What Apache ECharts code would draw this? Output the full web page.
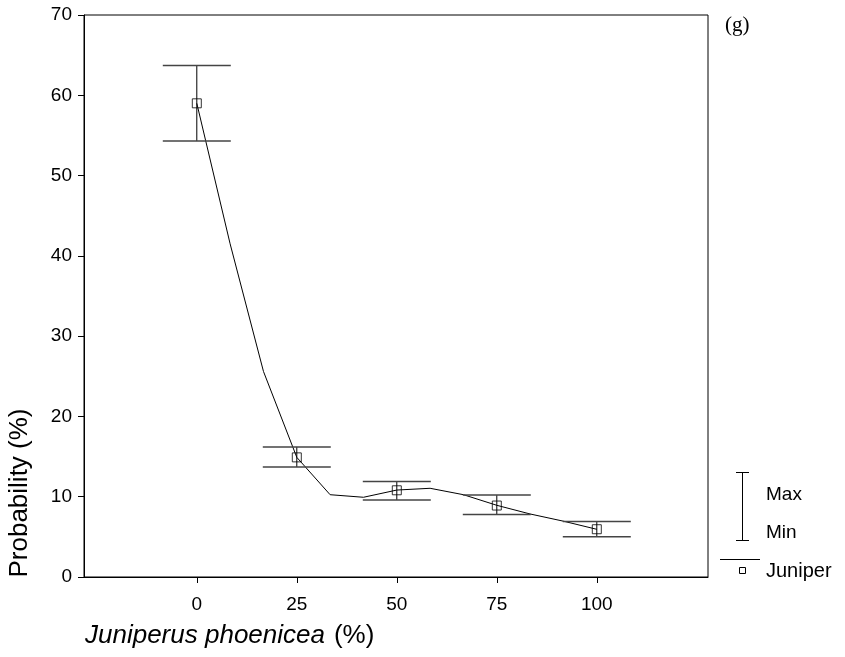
<!DOCTYPE html>
<html><head><meta charset="utf-8">
<script src="https://cdn.jsdelivr.net/npm/echarts@6/dist/echarts.min.js"></script>
<style>html,body{margin:0;padding:0;background:#fff}#c{width:845px;height:657px}</style>
</head><body><div id="c"></div>
<script>
// ---- data ----
const xTicks = [0, 25, 50, 75, 100];
const groupX = [0, 25, 50, 75, 100];
const meanVals = [59.0, 14.9, 10.8, 8.9, 5.95];
const maxVals = [63.7, 16.2, 11.9, 10.2, 6.9];
const minVals = [54.3, 13.7, 9.6, 7.8, 5.0];
const curveX = [0, 8.33, 16.67, 25, 33.33, 41.67, 50, 58.33, 66.67, 75, 83.33, 91.67, 100];
const curveY = [59.0, 41.5, 25.6, 14.9, 10.25, 9.93, 10.83, 11.05, 10.25, 8.93, 7.85, 6.95, 5.94];
const capHalf = 8.5;

const font = '"Liberation Sans", Arial, Helvetica, sans-serif';
const chart = echarts.init(document.getElementById('c'), null, {renderer: 'canvas'});

function renderItem(params, api) {
  const x = api.value(0), lo = api.value(1), hi = api.value(2);
  const top = api.coord([x, hi]), bot = api.coord([x, lo]);
  const tl = api.coord([x - capHalf, hi]), tr = api.coord([x + capHalf, hi]);
  const bl = api.coord([x - capHalf, lo]), br = api.coord([x + capHalf, lo]);
  return {
    type: 'group',
    children: [
      {type: 'line', shape: {x1: top[0], y1: top[1], x2: bot[0], y2: bot[1]}, style: {stroke: '#000', lineWidth: 1}},
      {type: 'line', shape: {x1: tl[0], y1: tl[1], x2: tr[0], y2: tr[1]}, style: {stroke: '#444', lineWidth: 1.5}},
      {type: 'line', shape: {x1: bl[0], y1: bl[1], x2: br[0], y2: br[1]}, style: {stroke: '#444', lineWidth: 1.5}}
    ]
  };
}

const option = {
  animation: false,
  grid: {left: 84, top: 15, width: 624, height: 562, show: true, borderColor: '#000', borderWidth: 1},
  xAxis: {
    type: 'value', min: -28.2, max: 127.8,
    axisLine: {onZero: false, lineStyle: {color: '#000', width: 1}},
    axisTick: {show: true, length: 6, customValues: xTicks, lineStyle: {color: '#000'}},
    axisLabel: {customValues: xTicks, margin: 18, color: '#000', fontSize: 19, fontFamily: font},
    splitLine: {show: false}
  },
  yAxis: {
    type: 'value', min: 0, max: 70, interval: 10,
    axisLine: {show: true, onZero: false, lineStyle: {color: '#000', width: 1}},
    axisTick: {show: true, length: 6, lineStyle: {color: '#000'}},
    axisLabel: {margin: 12, color: '#000', fontSize: 19, fontFamily: font},
    splitLine: {show: false}
  },
  series: [
    {type: 'line', data: curveX.map((x, i) => [x, curveY[i]]), symbol: 'none',
     lineStyle: {color: '#000', width: 1}, z: 2, silent: true},
    {type: 'custom', renderItem: renderItem, data: groupX.map((x, i) => [x, minVals[i], maxVals[i]]), z: 3, silent: true},
    {type: 'scatter', data: groupX.map((x, i) => [x, meanVals[i]]), symbol: 'rect', symbolSize: 9,
     itemStyle: {color: 'rgba(0,0,0,0)', borderColor: '#000', borderWidth: 1}, z: 4, silent: true}
  ],
  graphic: [
    {type: 'text', x: 20, y: 493, rotation: Math.PI / 2,
     style: {text: 'Probability (%)', font: '26px ' + font, fill: '#000', align: 'center', verticalAlign: 'middle'}},
    {type: 'text', x: 85, y: 636,
     style: {text: '{i|Juniperus phoenicea}{n|(%)}', fill: '#000', align: 'left', verticalAlign: 'middle',
       rich: {i: {fontStyle: 'italic', fontSize: 26, fontFamily: font, fill: '#000'},
              n: {fontSize: 26, fontFamily: font, fill: '#000', padding: [0, 0, 0, 9]}}}},
    {type: 'text', x: 725, y: 25,
     style: {text: '(g)', font: '21px "Liberation Serif", "Times New Roman", serif', fill: '#000', align: 'left', verticalAlign: 'middle'}},
    // legend
    {type: 'line', shape: {x1: 742.5, y1: 472.5, x2: 742.5, y2: 540}, style: {stroke: '#000', lineWidth: 1}},
    {type: 'line', shape: {x1: 736, y1: 472.5, x2: 749, y2: 472.5}, style: {stroke: '#000', lineWidth: 1}},
    {type: 'line', shape: {x1: 736, y1: 540.5, x2: 749, y2: 540.5}, style: {stroke: '#000', lineWidth: 1}},
    {type: 'line', shape: {x1: 720, y1: 559.5, x2: 760, y2: 559.5}, style: {stroke: '#000', lineWidth: 1}},
    {type: 'rect', shape: {x: 739.5, y: 567.5, width: 6, height: 6}, style: {fill: 'none', stroke: '#000', lineWidth: 1}},
    {type: 'text', x: 766, y: 495, style: {text: 'Max', font: '19px ' + font, fill: '#000', verticalAlign: 'middle'}},
    {type: 'text', x: 766, y: 532.5, style: {text: 'Min', font: '19px ' + font, fill: '#000', verticalAlign: 'middle'}},
    {type: 'text', x: 766, y: 571, style: {text: 'Juniper', font: '20px ' + font, fill: '#000', verticalAlign: 'middle'}}
  ]
};
chart.setOption(option);
</script>
</body></html>
